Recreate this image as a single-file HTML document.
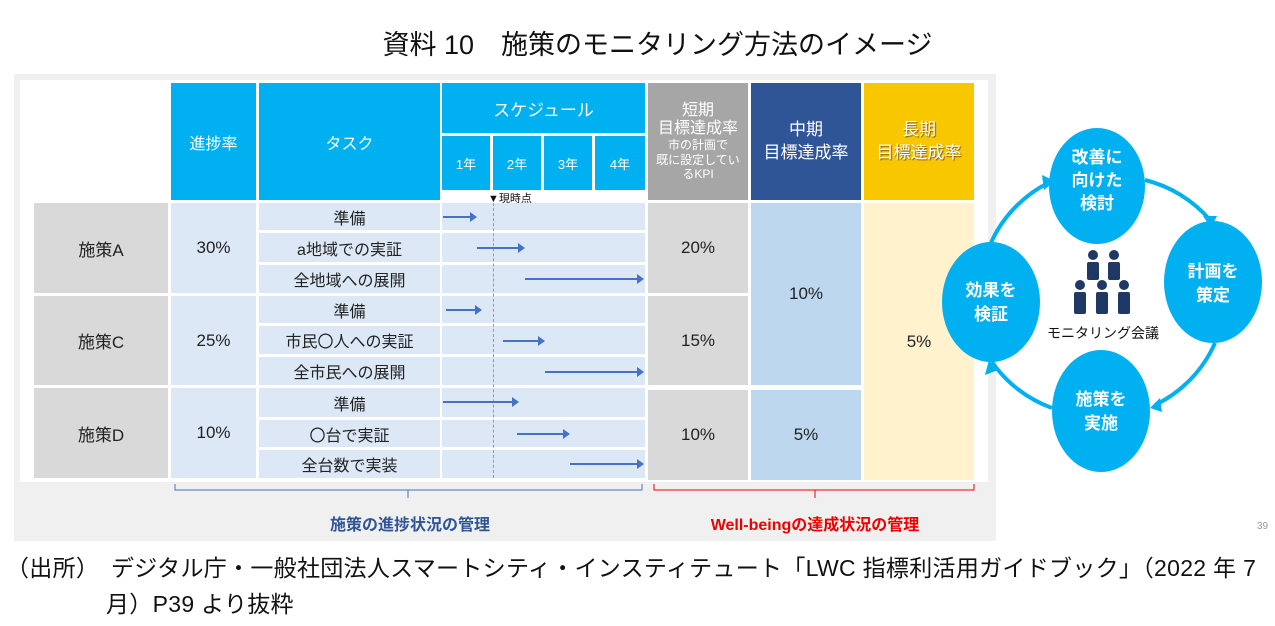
<!DOCTYPE html>
<html><head><meta charset="utf-8"><style>
body{margin:0;width:1275px;height:626px;background:#fff;position:relative;overflow:hidden;font-family:"Liberation Sans","Noto Sans CJK JP",sans-serif;}
.a{position:absolute;box-sizing:border-box;display:flex;align-items:center;justify-content:center;text-align:center;}
.h{background:#00b0f0;color:#fff;font-size:16px;}
.g{background:#d9d9d9;color:#222;font-size:17px;}
.l{background:#dde8f6;color:#222;font-size:17px;}
.t{background:#dde8f6;color:#222;font-size:16px;}
.arr{position:absolute;height:2px;background:#4472c4;}
.arr:after{content:"";position:absolute;right:-2px;top:-4px;border-left:7px solid #4472c4;border-top:5px solid transparent;border-bottom:5px solid transparent;}
</style></head><body>
<div class="a" style="left:0;top:22px;width:1315px;height:40px;font-size:27px;color:#111;">資料 10　施策のモニタリング方法のイメージ</div>
<div style="position:absolute;left:14px;top:74px;width:982px;height:467px;background:#f0f0f0;"></div>
<div style="position:absolute;left:20px;top:80px;width:968px;height:402px;background:#fff;"></div>
<div class="a h" style="left:171px;top:83px;width:85px;height:117px;">進捗率</div>
<div class="a h" style="left:259px;top:83px;width:181px;height:117px;">タスク</div>
<div class="a h" style="left:442px;top:83px;width:203px;height:50px;font-size:17px;">スケジュール</div>
<div class="a h" style="left:442px;top:136px;width:48px;height:54px;font-size:13px;">1年</div>
<div class="a h" style="left:493px;top:136px;width:48px;height:54px;font-size:13px;">2年</div>
<div class="a h" style="left:544px;top:136px;width:48px;height:54px;font-size:13px;">3年</div>
<div class="a h" style="left:595px;top:136px;width:50px;height:54px;font-size:13px;">4年</div>
<div class="a" style="left:648px;top:83px;width:100px;height:117px;background:#a6a6a6;color:#fff;flex-direction:column;line-height:1.15;font-size:16px;"><div>短期</div><div>目標達成率</div><div style="font-size:12px;line-height:1.2;">市の計画で<br>既に設定してい<br>るKPI</div></div>
<div class="a" style="left:751px;top:83px;width:110px;height:117px;background:#2f5597;color:#fff;font-size:17px;line-height:1.35;">中期<br>目標達成率</div>
<div class="a" style="left:864px;top:83px;width:110px;height:117px;background:#f8c700;color:#fff;font-size:17px;line-height:1.35;text-shadow:1px 1px 1px #806000;">長期<br>目標達成率</div>
<div style="position:absolute;left:488px;top:190px;font-size:11px;color:#111;">▼現時点</div>
<div class="a g" style="left:34px;top:203px;width:134px;height:90px;">施策A</div>
<div class="a g" style="left:34px;top:296px;width:134px;height:89px;">施策C</div>
<div class="a g" style="left:34px;top:388px;width:134px;height:90px;">施策D</div>
<div class="a l" style="left:171px;top:203px;width:85px;height:90px;">30%</div>
<div class="a l" style="left:171px;top:296px;width:85px;height:89px;">25%</div>
<div class="a l" style="left:171px;top:388px;width:85px;height:90px;">10%</div>
<div class="a t" style="left:259px;top:203px;width:181px;height:27px;">準備</div>
<div class="a t" style="left:259px;top:233px;width:181px;height:29px;">a地域での実証</div>
<div class="a t" style="left:259px;top:265px;width:181px;height:28px;">全地域への展開</div>
<div class="a t" style="left:259px;top:296px;width:181px;height:27px;">準備</div>
<div class="a t" style="left:259px;top:326px;width:181px;height:28px;">市民〇人への実証</div>
<div class="a t" style="left:259px;top:357px;width:181px;height:28px;">全市民への展開</div>
<div class="a t" style="left:259px;top:388px;width:181px;height:29px;">準備</div>
<div class="a t" style="left:259px;top:420px;width:181px;height:27px;">〇台で実証</div>
<div class="a t" style="left:259px;top:450px;width:181px;height:28px;">全台数で実装</div>
<div style="position:absolute;left:442px;top:203px;width:203px;height:27px;background:#dde8f6;"></div>
<div style="position:absolute;left:442px;top:233px;width:203px;height:29px;background:#dde8f6;"></div>
<div style="position:absolute;left:442px;top:265px;width:203px;height:28px;background:#dde8f6;"></div>
<div style="position:absolute;left:442px;top:296px;width:203px;height:27px;background:#dde8f6;"></div>
<div style="position:absolute;left:442px;top:326px;width:203px;height:28px;background:#dde8f6;"></div>
<div style="position:absolute;left:442px;top:357px;width:203px;height:28px;background:#dde8f6;"></div>
<div style="position:absolute;left:442px;top:388px;width:203px;height:29px;background:#dde8f6;"></div>
<div style="position:absolute;left:442px;top:420px;width:203px;height:27px;background:#dde8f6;"></div>
<div style="position:absolute;left:442px;top:450px;width:203px;height:28px;background:#dde8f6;"></div>
<div style="position:absolute;left:493px;top:203px;height:275px;border-left:1px dashed #999;"></div>
<div class="arr" style="left:443px;top:216px;width:32px;"></div>
<div class="arr" style="left:477px;top:247px;width:46px;"></div>
<div class="arr" style="left:525px;top:278px;width:117px;"></div>
<div class="arr" style="left:446px;top:309px;width:34px;"></div>
<div class="arr" style="left:503px;top:340px;width:40px;"></div>
<div class="arr" style="left:545px;top:371px;width:97px;"></div>
<div class="arr" style="left:443px;top:401px;width:74px;"></div>
<div class="arr" style="left:517px;top:433px;width:51px;"></div>
<div class="arr" style="left:570px;top:463px;width:72px;"></div>
<div class="a g" style="left:648px;top:203px;width:100px;height:90px;">20%</div>
<div class="a g" style="left:648px;top:296px;width:100px;height:89px;">15%</div>
<div class="a g" style="left:648px;top:390px;width:100px;height:90px;">10%</div>
<div class="a" style="left:751px;top:203px;width:110px;height:182px;background:#bdd7ee;font-size:17px;color:#222;">10%</div>
<div class="a" style="left:751px;top:390px;width:110px;height:90px;background:#bdd7ee;font-size:17px;color:#222;">5%</div>
<div class="a" style="left:864px;top:203px;width:110px;height:277px;background:#fff2cc;font-size:17px;color:#222;">5%</div>
<svg style="position:absolute;left:0;top:0" width="1275" height="626">
<path d="M175 484 v6 h467 v-6 M408 490 v8" fill="none" stroke="#4472c4" stroke-width="1"/>
<path d="M654 484 v6 h320 v-6 M815 490 v8" fill="none" stroke="#e00" stroke-width="1"/>
<g fill="none" stroke="#00b0f0" stroke-width="4">
<path d="M990 245 A125 125 0 0 1 1048 183"/>
<path d="M1145 180 A125 125 0 0 1 1210 220"/>
<path d="M1215 343 A125 125 0 0 1 1155 405"/>
<path d="M1052 408 A125 125 0 0 1 992 362"/>
</g>
<g fill="#00b0f0">
<polygon points="1055,181 1042,175 1044,190"/>
<polygon points="1211,228 1203,216 1217,216"/>
<polygon points="1150,408 1160,398 1162,412"/>
<polygon points="989,360 985,375 998,370"/>
<ellipse cx="1097" cy="186" rx="48" ry="58"/>
<ellipse cx="1213" cy="282" rx="49" ry="61"/>
<ellipse cx="1101" cy="411" rx="49" ry="61"/>
<ellipse cx="991" cy="302" rx="49" ry="60"/>
</g>
<g fill="#fff" font-size="17" font-weight="bold" text-anchor="middle" font-family="Liberation Sans,Noto Sans CJK JP,sans-serif">
<text x="1097" y="163">改善に</text><text x="1097" y="186">向けた</text><text x="1097" y="209">検討</text>
<text x="1213" y="277">計画を</text><text x="1213" y="301">策定</text>
<text x="1101" y="405">施策を</text><text x="1101" y="429">実施</text>
<text x="991" y="296">効果を</text><text x="991" y="320">検証</text>
</g>
<g fill="#1f3864">
<circle cx="1093" cy="255" r="5"/><circle cx="1114" cy="255" r="5"/>
<rect x="1087" y="262" width="12" height="18" rx="2"/><rect x="1108" y="262" width="12" height="18" rx="2"/>
<circle cx="1080" cy="285" r="5"/><circle cx="1102" cy="285" r="5"/><circle cx="1124" cy="285" r="5"/>
<rect x="1074" y="292" width="12" height="22" rx="2"/><rect x="1096" y="292" width="12" height="22" rx="2"/><rect x="1118" y="292" width="12" height="22" rx="2"/>
</g>
<text x="1103" y="338" font-size="14" text-anchor="middle" fill="#111" font-family="Liberation Sans,Noto Sans CJK JP,sans-serif">モニタリング会議</text>
</svg>
<div class="a" style="left:250px;top:510px;width:320px;height:26px;font-size:16px;font-weight:bold;color:#2f5597;">施策の進捗状況の管理</div>
<div class="a" style="left:660px;top:510px;width:310px;height:26px;font-size:16px;font-weight:bold;color:#e00;">Well-beingの達成状況の管理</div>
<div style="position:absolute;left:1257px;top:521px;font-size:10px;color:#999;">39</div>
<div style="position:absolute;left:6px;top:550px;font-size:23px;color:#111;line-height:36px;white-space:nowrap;letter-spacing:0.3px;">（出所）　デジタル庁・一般社団法人スマートシティ・インスティテュート「LWC 指標利活用ガイドブック」（2022 年 7<br><span style="padding-left:100px;">月）P39 より抜粋</span></div>
</body></html>
